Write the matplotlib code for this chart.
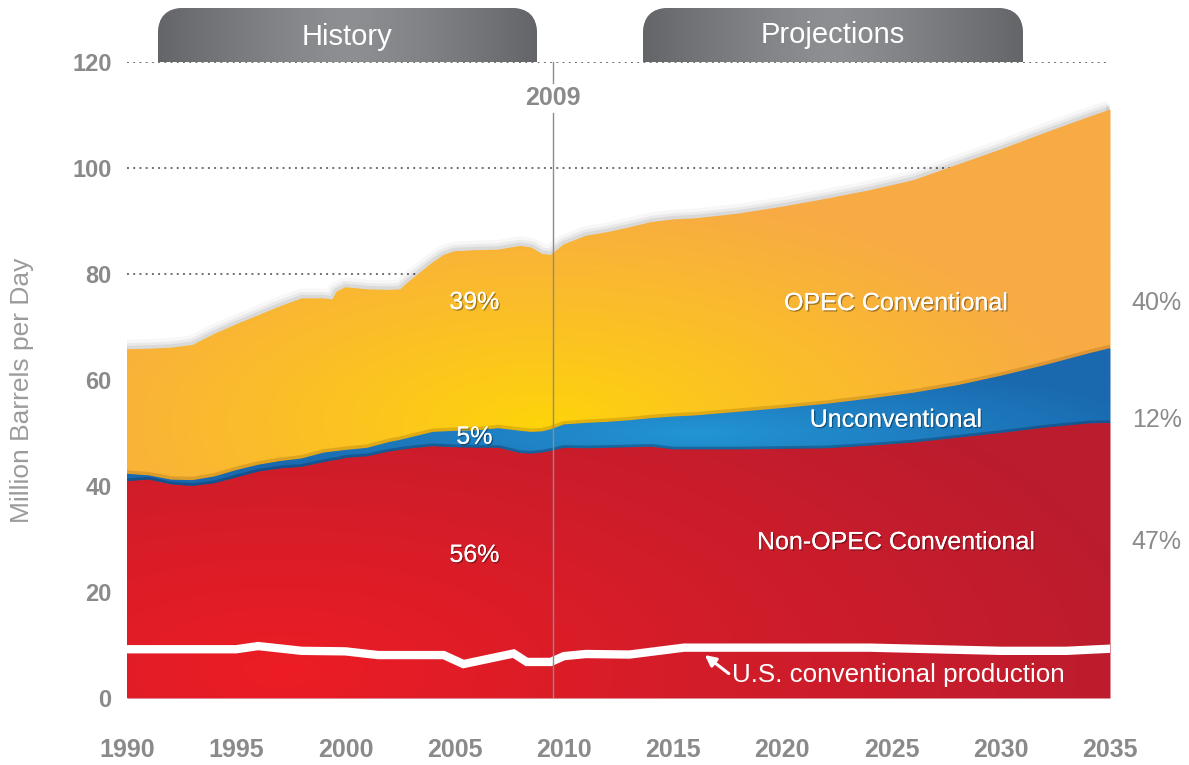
import numpy as np
import matplotlib
matplotlib.use("Agg")
import matplotlib.pyplot as plt
import matplotlib.patheffects as pe
from matplotlib.colors import to_rgb
from matplotlib.patches import FancyBboxPatch

# years sampled off the chart (denser where the history line has kinks)
years = [1990, 1991, 1992, 1993, 1994, 1995, 1996, 1997, 1998, 1999, 1999.4, 1999.6,
         2000, 2001, 2002, 2002.5, 2003, 2004, 2004.5, 2005, 2006, 2007, 2008, 2008.5,
         2009, 2009.4, 2010, 2011, 2012, 2013, 2014, 2015, 2016, 2018, 2020, 2022,
         2024, 2026, 2028, 2030, 2032, 2034, 2035]

non_opec = [40.9, 41.2, 40.3, 40.0, 40.5, 41.6, 42.7, 43.3, 43.6, 44.5, 44.8, 44.9,
            45.3, 45.6, 46.5, 46.8, 47.1, 47.5, 47.4, 47.3, 47.2, 47.2, 46.2, 46.1,
            46.3, 46.6, 47.2, 47.1, 47.2, 47.3, 47.4, 46.9, 46.9, 46.9, 47.0, 47.1,
            47.6, 48.2, 49.1, 50.0, 51.0, 51.8, 51.9]

unconventional = [1.4, 0.8, 0.9, 1.1, 1.3, 1.4, 1.3, 1.4, 1.6, 1.8, 1.7, 1.7,
                  1.5, 1.6, 1.8, 1.9, 2.1, 2.7, 2.9, 3.1, 3.3, 3.7, 4.2, 4.1,
                  4.0, 4.1, 4.4, 4.8, 4.9, 5.1, 5.4, 6.2, 6.4, 7.1, 7.7, 8.4,
                  8.9, 9.4, 9.9, 10.8, 11.8, 13.2, 14.1]

opec = [23.5, 23.9, 24.9, 25.5, 26.9, 27.5, 28.2, 29.2, 30.2, 29.1, 28.7, 30.1,
        30.7, 29.9, 28.7, 28.4, 29.7, 32.0, 33.3, 33.9, 34.0, 33.7, 34.9, 34.8,
        33.5, 32.9, 34.0, 35.3, 35.8, 36.4, 37.0, 37.2, 37.2, 37.4, 38.0, 38.7,
        39.3, 40.1, 41.6, 42.7, 43.8, 44.6, 45.0]

us_years = [1990, 1995, 1996, 1998, 2000, 2001.5, 2004.5, 2005.4, 2007.7, 2008.3,
            2009.4, 2010, 2011, 2013, 2015.5, 2024, 2030, 2033, 2035]
us_prod = [9.2, 9.2, 9.8, 8.9, 8.8, 8.1, 8.1, 6.4, 8.4, 6.8,
           6.8, 7.9, 8.3, 8.2, 9.5, 9.5, 8.9, 8.9, 9.3]

history_share = ["56%", "5%", "39%"]
proj_share = ["47%", "12%", "40%"]
layer_names = ["Non-OPEC Conventional", "Unconventional", "OPEC Conventional"]

GREY = "#8a8a8a"
SANS = ["Liberation Sans", "DejaVu Sans"]
plt.rcParams["font.family"] = SANS

x = np.array(years)
red_top = np.array(non_opec)
blue_top = red_top + np.array(unconventional)
total = blue_top + np.array(opec)

fig = plt.figure(figsize=(11.89, 7.65), dpi=100)
ax = fig.add_axes([127 / 1189, 1 - 698 / 765, (1110 - 127) / 1189, (698 - 62) / 765])


def gradient_fill(lo, hi, c_in, c_out, center, scale, z):
    poly = ax.fill_between(x, lo, hi, color=c_out, lw=0, zorder=z)
    gx = np.linspace(1990, 2035, 450)
    gy = np.linspace(0, 120, 300)
    X, Y = np.meshgrid(gx, gy)
    d = np.sqrt(((X - center[0]) / scale[0]) ** 2 + ((Y - center[1]) / scale[1]) ** 2)
    t = np.clip(d, 0, 1)[..., None] ** 0.9
    img = (1 - t) * np.array(to_rgb(c_in)) + t * np.array(to_rgb(c_out))
    im = ax.imshow(img, extent=(1990, 2035, 0, 120), origin="lower",
                   aspect="auto", zorder=z + 0.01, interpolation="bilinear")
    im.set_clip_path(poly.get_paths()[0], ax.transData)


# soft shadow around the whole stack
for lw, a in [(14, 0.03), (9, 0.05), (5, 0.07)]:
    ax.plot(x, total, color="black", lw=lw, alpha=a, zorder=1.5, solid_capstyle="butt")
ax.plot([2035, 2035], [0, total[-1]], color="black", lw=6, alpha=0.05, zorder=1.5)

gradient_fill(blue_top, total, "#fed40a", "#f8ab44", (2009, 52), (25, 44), 2)
ax.plot(x, blue_top, color="#7a4a00", lw=5, alpha=0.22, zorder=2.5)
gradient_fill(red_top, blue_top, "#2396d5", "#1a68ae", (2016, 50), (22, 14), 3)
ax.plot(x, red_top, color="#0a2a50", lw=4, alpha=0.35, zorder=3.5)
gradient_fill(np.zeros_like(red_top), red_top, "#ed1c24", "#bb1d2e", (1997, 5), (40, 70), 4)

ax.plot(us_years, us_prod, color="white", lw=6, zorder=6, solid_joinstyle="miter")

# dotted grid
for yv in [20, 40, 60, 80, 100, 120]:
    ax.plot([1990, 2035], [yv, yv], color="#6f6f6f", lw=1.4, ls=(0, (1, 2.2)), zorder=1)

# 2009 divider
ax.plot([2009.5, 2009.5], [0, 110.3], color="#8c8c8c", lw=1, zorder=7)
ax.plot([2009.5, 2009.5], [116.0, 120], color="#8c8c8c", lw=1, zorder=7)
ax.text(2009.5, 113.2, "2009", ha="center", va="center", fontsize=18,
        fontweight="bold", color=GREY)

ax.set_xlim(1990, 2035)
ax.set_ylim(0, 120)
for s in ax.spines.values():
    s.set_visible(False)
ax.set_xticks(range(1990, 2040, 5))
ax.set_yticks(range(0, 140, 20))
ax.tick_params(length=0, colors=GREY)
ax.tick_params(axis="x", pad=29)
ax.tick_params(axis="y", pad=11)
for lab in ax.get_xticklabels():
    lab.set_fontsize(18)
    lab.set_fontweight("bold")
for lab in ax.get_yticklabels():
    lab.set_fontsize(17)
    lab.set_fontweight("bold")

fig.text(22 / 1189, 1 - 390 / 765, "Million Barrels per Day", rotation=90,
         ha="center", va="center", fontsize=19, color="#9b9b9b")

shadow = [pe.withSimplePatchShadow(offset=(1, -1), shadow_rgbFace="black", alpha=0.35),
          pe.Normal()]

# history shares around 2006, projection names around 2025
hist_y = [27.0, 49.3, 74.7]
proj_y = [29.4, 52.5, 74.5]
for txt, yy in zip(history_share, hist_y):
    ax.text(2005.9, yy, txt, ha="center", va="center", fontsize=18, color="white",
            path_effects=shadow, zorder=8)
for txt, yy in zip(layer_names, proj_y):
    ax.text(2025.2, yy, txt, ha="center", va="center", fontsize=18, color="white",
            path_effects=shadow, zorder=8)
for txt, yy in zip(proj_share, proj_y):
    ax.text(2036.0, yy, txt, ha="left", va="center", fontsize=18, color=GREY,
            clip_on=False)

ax.annotate("", xy=(2016.45, 8.1), xytext=(2017.55, 4.6), zorder=8,
            arrowprops=dict(arrowstyle="-|>", color="white", lw=2.2,
                            mutation_scale=16, shrinkA=0, shrinkB=0))
ax.text(2017.7, 4.3, "U.S. conventional production", ha="left", va="center",
        fontsize=18.7, color="white", zorder=8)

# header tabs
hax = fig.add_axes([0, 1 - 62 / 765, 1, 62 / 765])
hax.set_xlim(0, 1189)
hax.set_ylim(62, 0)
hax.axis("off")
tabs = [("History", 158, 537, 37), ("Projections", 643, 1023, 35)]
for name, x0, x1, ty in tabs:
    box = FancyBboxPatch((x0, 8), x1 - x0, 120, boxstyle="round,pad=0,rounding_size=26",
                         fc="#6d6e71", ec="none", zorder=1)
    hax.add_patch(box)
    g = np.linspace(-1, 1, 300)
    t = (np.abs(g) ** 1.3)[None, :, None]
    img = (1 - t) * np.array(to_rgb("#8e8f92")) + t * np.array(to_rgb("#646569"))
    img = np.repeat(img, 10, axis=0)
    im = hax.imshow(img, extent=(x0, x1, 62, 0), aspect="auto", zorder=2)
    im.set_clip_path(box)
    hax.text((x0 + x1) / 2, ty, name, ha="center", va="center", fontsize=21,
             color="white", zorder=3)
hax.set_xlim(0, 1189)
hax.set_ylim(62, 0)

fig.savefig("out.png", dpi=100)
